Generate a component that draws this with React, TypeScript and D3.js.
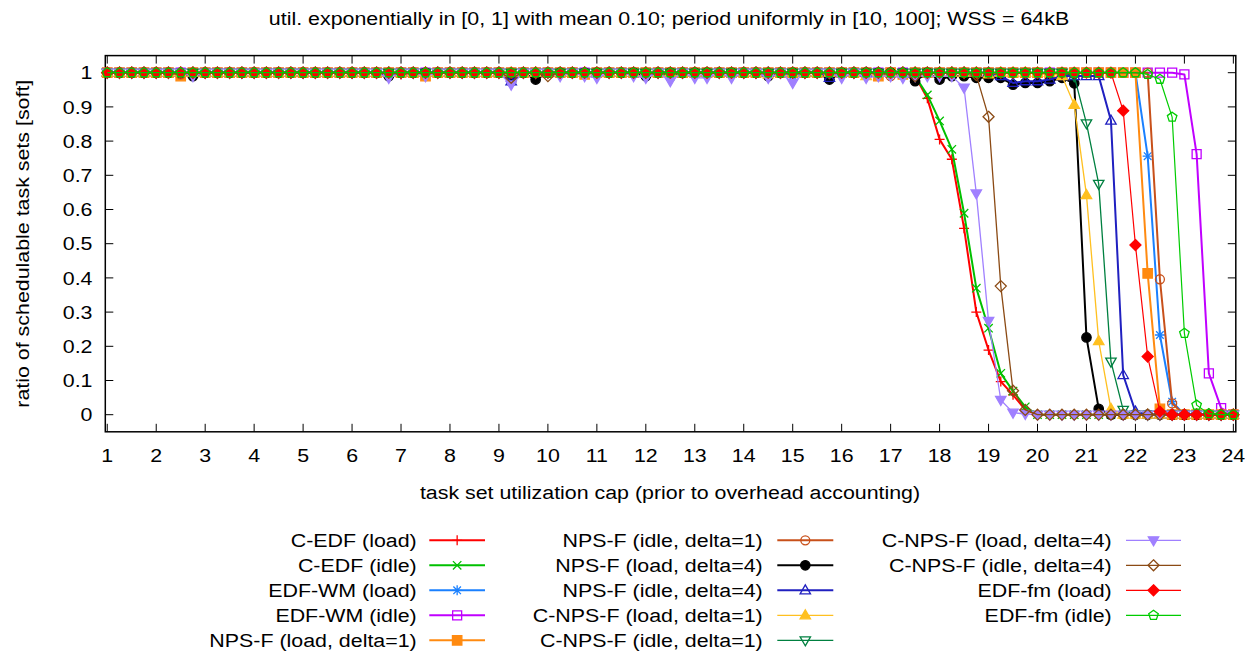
import React from 'react';
import * as d3 from 'd3';

const W = 1258;
const H = 653;
const FONT = '"Liberation Sans", Arial, Helvetica, sans-serif';
const FS = 18.6;
const SX = 1.15;

const titleText = 'util. exponentially in [0, 1] with mean 0.10; period uniformly in [10, 100]; WSS = 64kB';
const xLabel = 'task set utilization cap (prior to overhead accounting)';
const yLabel = 'ratio of schedulable task sets [soft]';

const xTicks = [1, 2, 3, 4, 5, 6, 7, 8, 9, 10, 11, 12, 13, 14, 15, 16, 17, 18, 19, 20, 21, 22, 23, 24];
const yTicks = [0, 0.1, 0.2, 0.3, 0.4, 0.5, 0.6, 0.7, 0.8, 0.9, 1];
const yTickLabels = ['0', '0.1', '0.2', '0.3', '0.4', '0.5', '0.6', '0.7', '0.8', '0.9', '1'];

const caps = [
  1, 1.25, 1.5, 1.75, 2, 2.25, 2.5, 2.75, 3, 3.25, 3.5, 3.75, 4, 4.25, 4.5, 4.75,
  5, 5.25, 5.5, 5.75, 6, 6.25, 6.5, 6.75, 7, 7.25, 7.5, 7.75, 8, 8.25, 8.5, 8.75,
  9, 9.25, 9.5, 9.75, 10, 10.25, 10.5, 10.75, 11, 11.25, 11.5, 11.75, 12, 12.25, 12.5, 12.75,
  13, 13.25, 13.5, 13.75, 14, 14.25, 14.5, 14.75, 15, 15.25, 15.5, 15.75, 16, 16.25, 16.5, 16.75,
  17, 17.25, 17.5, 17.75, 18, 18.25, 18.5, 18.75, 19, 19.25, 19.5, 19.75, 20, 20.25, 20.5, 20.75,
  21, 21.25, 21.5, 21.75, 22, 22.25, 22.5, 22.75, 23, 23.25, 23.5, 23.75, 24,
];

const seriesNames = [
  'C-EDF (load)', 'C-EDF (idle)', 'EDF-WM (load)', 'EDF-WM (idle)', 'NPS-F (load, delta=1)',
  'NPS-F (idle, delta=1)', 'NPS-F (load, delta=4)', 'NPS-F (idle, delta=4)', 'C-NPS-F (load, delta=1)', 'C-NPS-F (idle, delta=1)',
  'C-NPS-F (load, delta=4)', 'C-NPS-F (idle, delta=4)', 'EDF-fm (load)', 'EDF-fm (idle)',
];

const cedfLoad = [
  1, 1, 1, 1, 1, 1, 1, 1, 1, 1, 1, 1, 1, 1, 1, 1,
  1, 1, 1, 1, 1, 1, 1, 1, 0.995, 1, 1, 1, 1, 1, 1, 1,
  1, 1, 1, 1, 1, 1, 1, 1, 1, 1, 1, 1, 1, 1, 1, 1,
  1, 1, 1, 1, 1, 1, 1, 1, 1, 1, 1, 1, 1, 1, 1, 1,
  1, 1, 0.99, 0.925, 0.805, 0.747, 0.545, 0.30, 0.189, 0.097, 0.058, 0.014, 0, 0, 0, 0,
  0, 0, 0, 0, 0, 0, 0, 0, 0, 0, 0, 0, 0,
];
const cedfIdle = [
  1, 1, 1, 1, 1, 1, 1, 1, 1, 1, 1, 1, 1, 1, 1, 1,
  1, 1, 1, 1, 1, 1, 1, 1, 1, 1, 1, 1, 1, 1, 1, 1,
  1, 1, 1, 1, 1, 1, 1, 1, 1, 1, 1, 1, 1, 1, 0.99, 1,
  1, 1, 1, 1, 1, 1, 1, 1, 1, 1, 1, 1, 1, 1, 1, 1,
  1, 1, 0.99, 0.935, 0.859, 0.776, 0.589, 0.370, 0.253, 0.121, 0.069, 0.023, 0, 0, 0, 0,
  0, 0, 0, 0, 0, 0, 0, 0, 0, 0, 0, 0, 0,
];
const edfwmLoad = [
  1, 1, 1, 1, 1, 1, 1, 1, 1, 1, 1, 1, 1, 1, 1, 1,
  1, 1, 1, 1, 1, 1, 1, 1, 1, 1, 1, 1, 1, 1, 1, 1,
  1, 0.985, 1, 1, 1, 1, 1, 1, 1, 1, 1, 1, 1, 1, 1, 1,
  1, 1, 1, 1, 1, 1, 1, 1, 0.99, 1, 1, 1, 1, 1, 1, 1,
  1, 1, 1, 1, 1, 1, 1, 1, 1, 1, 1, 1, 1, 1, 1, 1,
  1, 1, 1, 1, 1, 0.756, 0.233, 0.038, 0, 0, 0, 0, 0,
];
const edfwmIdle = [
  1, 1, 1, 1, 1, 1, 1, 1, 1, 1, 1, 1, 1, 1, 1, 1,
  1, 1, 1, 1, 1, 1, 1, 1, 1, 1, 1, 1, 1, 1, 1, 1,
  1, 1, 1, 1, 1, 1, 1, 1, 1, 1, 1, 1, 1, 1, 1, 1,
  1, 1, 1, 1, 1, 1, 1, 1, 1, 1, 1, 1, 1, 1, 1, 1,
  1, 1, 1, 1, 1, 1, 1, 1, 1, 1, 1, 1, 1, 1, 1, 1,
  1, 1, 1, 1, 1, 1, 1, 1, 0.995, 0.762, 0.121, 0.019, 0,
];
const npsfLoad1 = [
  1, 1, 1, 1, 1, 1, 0.99, 1, 1, 1, 1, 1, 1, 1, 1, 1,
  1, 1, 1, 1, 1, 1, 1, 1, 1, 1, 0.99, 1, 1, 1, 1, 1,
  1, 1, 1, 1, 1, 1, 1, 0.995, 1, 1, 1, 1, 1, 1, 1, 1,
  1, 1, 1, 1, 1, 1, 1, 1, 1, 1, 1, 1, 1, 1, 1, 0.99,
  1, 0.995, 1, 1, 1, 1, 1, 1, 1, 1, 1, 1, 1, 0.995, 1, 1,
  1, 1, 1, 1, 1, 0.413, 0.017, 0, 0, 0, 0, 0, 0,
];
const npsfIdle1 = [
  1, 1, 1, 1, 1, 1, 0.995, 1, 1, 1, 1, 1, 1, 1, 1, 1,
  1, 1, 1, 1, 1, 1, 1, 1, 1, 1, 1, 1, 1, 1, 1, 1,
  1, 1, 1, 1, 1, 1, 1, 1, 1, 1, 1, 1, 1, 1, 1, 1,
  1, 1, 1, 1, 1, 1, 1, 1, 1, 1, 1, 1, 1, 1, 1, 1,
  0.99, 1, 1, 1, 1, 1, 1, 1, 1, 1, 1, 1, 1, 1, 1, 1,
  1, 1, 1, 1, 1, 1, 0.396, 0.033, 0, 0, 0, 0, 0,
];
const npsfLoad4 = [
  1, 1, 1, 1, 1, 1, 1, 0.99, 1, 1, 1, 1, 1, 1, 1, 1,
  1, 1, 1, 1, 1, 1, 1, 0.99, 1, 1, 1, 1, 1, 1, 1, 1,
  1, 0.975, 1, 0.98, 1, 1, 1, 1, 1, 1, 1, 1, 0.99, 1, 1, 1,
  1, 1, 1, 1, 1, 1, 0.99, 1, 1, 1, 1, 0.98, 1, 1, 1, 1,
  1, 1, 0.975, 1, 0.98, 0.99, 0.99, 0.985, 0.985, 0.985, 0.965, 0.97, 0.97, 0.975, 0.985, 0.969,
  0.226, 0.017, 0, 0, 0, 0, 0, 0, 0, 0, 0, 0, 0,
];
const npsfIdle4 = [
  1, 1, 1, 1, 1, 1, 1, 1, 1, 1, 1, 1, 1, 1, 1, 1,
  1, 1, 1, 1, 1, 1, 1, 1, 1, 1, 1, 1, 1, 1, 1, 1,
  1, 0.975, 1, 1, 1, 1, 1, 1, 1, 1, 1, 1, 1, 1, 1, 1,
  1, 1, 1, 1, 1, 1, 1, 1, 1, 1, 1, 0.985, 1, 1, 1, 1,
  1, 1, 1, 1, 1, 1, 1, 1, 1, 0.99, 0.97, 0.975, 0.975, 0.98, 0.99, 0.99,
  0.99, 0.99, 0.860, 0.116, 0.009, 0, 0, 0, 0, 0, 0, 0, 0,
];
const cnpsfLoad1 = [
  1, 1, 1, 1, 1, 1, 1, 1, 1, 1, 1, 1, 1, 1, 1, 1,
  1, 1, 1, 1, 1, 1, 1, 1, 1, 1, 1, 1, 1, 1, 1, 1,
  1, 1, 1, 1, 1, 1, 1, 1, 1, 1, 1, 1, 1, 1, 1, 1,
  1, 1, 1, 1, 1, 1, 0.995, 1, 1, 1, 1, 1, 1, 1, 0.99, 1,
  1, 1, 1, 1, 1, 1, 1, 1, 0.995, 1, 1, 1, 1, 1, 0.99, 0.906,
  0.642, 0.215, 0.017, 0, 0, 0, 0, 0, 0, 0, 0, 0, 0,
];
const cnpsfIdle1 = [
  1, 1, 1, 1, 1, 1, 1, 1, 1, 1, 1, 1, 1, 1, 1, 1,
  1, 1, 1, 1, 1, 1, 1, 1, 1, 1, 1, 1, 1, 1, 1, 1,
  1, 1, 1, 1, 1, 1, 1, 1, 1, 1, 1, 1, 1, 1, 1, 1,
  1, 1, 1, 1, 1, 1, 1, 1, 1, 1, 1, 1, 1, 1, 1, 1,
  0.995, 1, 1, 1, 1, 1, 1, 1, 1, 1, 1, 1, 1, 1, 1, 0.99,
  0.852, 0.675, 0.155, 0.014, 0, 0, 0, 0, 0, 0, 0, 0, 0,
];
const cnpsfLoad4 = [
  1, 1, 1, 1, 1, 1, 1, 0.99, 1, 1, 1, 1, 1, 1, 1, 1,
  1, 1, 1, 1, 1, 1, 1, 0.985, 1, 1, 0.99, 1, 1, 1, 1, 1,
  1, 0.965, 1, 1, 1, 0.99, 1, 0.99, 0.985, 1, 1, 0.99, 0.985, 1, 0.975, 1,
  0.985, 0.985, 1, 0.985, 1, 1, 0.985, 1, 0.97, 1, 1, 1, 0.985, 1, 0.985, 0.99,
  0.99, 0.985, 0.99, 0.99, 0.99, 0.99, 0.956, 0.647, 0.274, 0.043, 0.006, 0.002, 0, 0, 0, 0,
  0, 0, 0, 0, 0, 0, 0, 0, 0, 0, 0, 0, 0,
];
const cnpsfIdle4 = [
  1, 1, 1, 1, 1, 1, 1, 1, 1, 1, 1, 1, 1, 1, 1, 1,
  1, 1, 1, 1, 1, 1, 1, 1, 1, 1, 1, 1, 1, 1, 1, 1,
  1, 0.985, 1, 1, 0.99, 1, 1, 1, 1, 1, 1, 1, 1, 1, 1, 1,
  1, 1, 1, 1, 1, 1, 1, 1, 1, 1, 1, 1, 1, 1, 1, 1,
  1, 1, 0.99, 1, 1, 1, 1, 0.993, 0.871, 0.376, 0.070, 0.014, 0, 0, 0, 0,
  0, 0, 0, 0, 0, 0, 0, 0, 0, 0, 0, 0, 0,
];
const edffmLoad = [
  1, 1, 1, 1, 1, 1, 1, 1, 1, 1, 1, 1, 1, 1, 1, 1,
  1, 1, 1, 1, 1, 1, 1, 1, 1, 1, 1, 1, 1, 1, 1, 1,
  1, 1, 1, 1, 1, 1, 1, 1, 1, 1, 1, 1, 1, 1, 1, 1,
  1, 1, 1, 1, 1, 1, 1, 1, 1, 1, 1, 1, 1, 1, 1, 1,
  1, 1, 1, 1, 1, 1, 1, 1, 1, 1, 1, 1, 1, 1, 1, 1,
  1, 1, 1, 0.889, 0.496, 0.170, 0.009, 0, 0, 0, 0, 0, 0,
];
const edffmIdle = [
  1, 1, 1, 1, 1, 1, 1, 1, 1, 1, 1, 1, 1, 1, 1, 1,
  1, 1, 1, 1, 1, 1, 1, 1, 1, 1, 1, 1, 1, 1, 1, 1,
  1, 1, 1, 1, 1, 1, 1, 1, 1, 1, 1, 1, 1, 1, 1, 1,
  1, 1, 1, 1, 1, 1, 1, 1, 1, 1, 1, 1, 1, 1, 1, 1,
  1, 1, 1, 1, 1, 1, 1, 1, 1, 1, 1, 1, 1, 1, 1, 1,
  1, 1, 1, 1, 1, 0.995, 0.981, 0.870, 0.238, 0.028, 0.003, 0, 0,
];

const seriesValues = [
  cedfLoad, cedfIdle, edfwmLoad, edfwmIdle, npsfLoad1, npsfIdle1, npsfLoad4,
  npsfIdle4, cnpsfLoad1, cnpsfIdle1, cnpsfLoad4, cnpsfIdle4, edffmLoad, edffmIdle,
];

// styles (kept apart from the data)
const seriesColors = [
  '#ff0000', '#00c000', '#1a80ff', '#c000ff', '#ff8a10', '#c8501a', '#000000',
  '#2020c0', '#ffc020', '#008040', '#a080ff', '#8b4a14', '#ff0000', '#00cc00',
];
const seriesWidths = [2, 2, 2, 2, 2, 2, 2, 2, 1.3, 1.3, 1.3, 1.3, 1.2, 1.2];
const seriesMarkers = [
  'plus', 'cross', 'star', 'square', 'squareF', 'circle', 'circleF',
  'triUp', 'triUpF', 'triDown', 'triDownF', 'diamond', 'diamondF', 'pentagon',
];

const pentagonPts = (r: number) => {
  const pts: string[] = [];
  for (let k = 0; k < 5; k++) {
    const a = -Math.PI / 2 + (k * 2 * Math.PI) / 5;
    pts.push(`${(r * Math.cos(a)).toFixed(2)},${(r * Math.sin(a)).toFixed(2)}`);
  }
  return 'M' + pts.join('L') + 'Z';
};

function markerPath(kind: string): { d: string; filled: boolean } {
  switch (kind) {
    case 'plus': return { d: 'M-5,0H5M0,-5V5', filled: false };
    case 'cross': return { d: 'M-4.2,-4.2L4.2,4.2M-4.2,4.2L4.2,-4.2', filled: false };
    case 'star': return { d: 'M-5,0H5M0,-5V5M-3.8,-3.8L3.8,3.8M-3.8,3.8L3.8,-3.8', filled: false };
    case 'square': return { d: 'M-4.5,-4.5H4.5V4.5H-4.5Z', filled: false };
    case 'squareF': return { d: 'M-4.7,-4.7H4.7V4.7H-4.7Z', filled: true };
    case 'circle': return { d: 'M-4.5,0A4.5,4.5 0 1,0 4.5,0A4.5,4.5 0 1,0 -4.5,0Z', filled: false };
    case 'circleF': return { d: 'M-4.7,0A4.7,4.7 0 1,0 4.7,0A4.7,4.7 0 1,0 -4.7,0Z', filled: true };
    case 'triUp': return { d: 'M0,-5.5L5.2,3.5H-5.2Z', filled: false };
    case 'triUpF': return { d: 'M0,-5.5L5.2,3.5H-5.2Z', filled: true };
    case 'triDown': return { d: 'M0,5.5L5.2,-3.5H-5.2Z', filled: false };
    case 'triDownF': return { d: 'M0,5.5L5.2,-3.5H-5.2Z', filled: true };
    case 'diamond': return { d: 'M0,-5.5L5.5,0L0,5.5L-5.5,0Z', filled: false };
    case 'diamondF': return { d: 'M0,-5.5L5.5,0L0,5.5L-5.5,0Z', filled: true };
    default: return { d: pentagonPts(5), filled: false };
  }
}

const Marker = ({ x, y, kind, color }: { x: number; y: number; kind: string; color: string }) => {
  const m = markerPath(kind);
  return (
    <path
      d={m.d}
      transform={`translate(${x.toFixed(2)},${y.toFixed(2)})`}
      fill={m.filled ? color : 'none'}
      stroke={color}
      strokeWidth={1.3}
    />
  );
};

const T = ({ x, y, anchor = 'start', rotate = 0, children }: any) => (
  <text
    transform={`translate(${x},${y})${rotate ? ` rotate(${rotate})` : ''} scale(${SX},1)`}
    textAnchor={anchor}
    fontFamily={FONT}
    fontSize={FS}
    fill="#000"
  >
    {children}
  </text>
);

export default function App() {
  const x = d3.scaleLinear().domain([0.96, 24.05]).range([105.3, 1235.8]);
  const y = d3.scaleLinear().domain([-0.05, 1.05]).range([431.8, 55.6]);
  const [x0, x1] = x.range();
  const [yb, yt] = y.range();
  const line = d3.line<number>().x((_, i) => x(caps[i])).y((v) => y(v));

  const legendCols = [
    { textEnd: 416.7, l1: 429.3, l2: 485 },
    { textEnd: 762.7, l1: 777.3, l2: 833.3 },
    { textEnd: 1111.7, l1: 1126, l2: 1181 },
  ];
  const legendRow0 = 540.3;
  const legendStep = 25;

  return (
    <svg width={W} height={H} style={{ position: 'absolute', left: 0, top: 0, background: '#fff' }}>
      <rect x={0} y={0} width={W} height={H} fill="#fff" />
      {/* ticks */}
      {xTicks.map((t) => (
        <g key={'xt' + t}>
          <line x1={x(t)} x2={x(t)} y1={yb} y2={yb - 8} stroke="#000" strokeWidth={1} />
          <line x1={x(t)} x2={x(t)} y1={yt} y2={yt + 8} stroke="#000" strokeWidth={1} />
          <T x={x(t)} y={461.7} anchor="middle">{String(t)}</T>
        </g>
      ))}
      {yTicks.map((t, i) => (
        <g key={'yt' + i}>
          <line x1={x0} x2={x0 + 8} y1={y(t)} y2={y(t)} stroke="#000" strokeWidth={1} />
          <line x1={x1} x2={x1 - 8} y1={y(t)} y2={y(t)} stroke="#000" strokeWidth={1} />
          <T x={92.5} y={y(t) + 6.7} anchor="end">{yTickLabels[i]}</T>
        </g>
      ))}
      <rect x={x0} y={yt} width={x1 - x0} height={yb - yt} fill="none" stroke="#000" strokeWidth={1.5} />

      {/* series */}
      {seriesValues.map((vals, s) => (
        <g key={'s' + s}>
          <path d={line(vals) || ''} fill="none" stroke={seriesColors[s]} strokeWidth={seriesWidths[s]} strokeLinejoin="round" />
          {vals.map((v, i) => (
            <Marker key={i} x={x(caps[i])} y={y(v)} kind={seriesMarkers[s]} color={seriesColors[s]} />
          ))}
        </g>
      ))}

      {/* title and axis labels */}
      <T x={669} y={24.5} anchor="middle">{titleText}</T>
      <T x={670} y={498.5} anchor="middle">{xLabel}</T>
      <T x={28.6} y={(yt + yb) / 2} anchor="middle" rotate={-90}>{yLabel}</T>

      {/* legend */}
      {seriesNames.map((name, s) => {
        const col = s < 5 ? 0 : s < 10 ? 1 : 2;
        const row = s < 5 ? s : s < 10 ? s - 5 : s - 10;
        const c = legendCols[col];
        const ly = legendRow0 + row * legendStep;
        return (
          <g key={'lg' + s}>
            <T x={c.textEnd} y={ly + 6.7} anchor="end">{name}</T>
            <line x1={c.l1} x2={c.l2} y1={ly} y2={ly} stroke={seriesColors[s]} strokeWidth={seriesWidths[s]} />
            <Marker x={(c.l1 + c.l2) / 2} y={ly} kind={seriesMarkers[s]} color={seriesColors[s]} />
          </g>
        );
      })}
    </svg>
  );
}
